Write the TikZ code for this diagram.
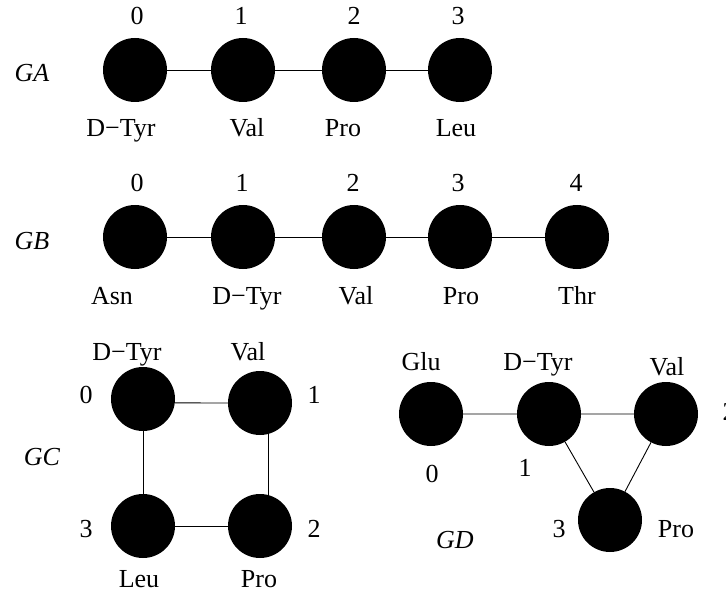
\documentclass[tikz,border=0pt]{standalone}
\usepackage{fontspec}
\setmainfont{Liberation Serif}
\begin{document}
\begin{tikzpicture}[x=1pt,y=-1pt,
  vert/.style={circle,fill=black,minimum size=64pt,inner sep=0pt,outer sep=0pt},
  lab/.style={anchor=base,inner sep=0pt,font=\fontsize{26}{30}\selectfont},
  glab/.style={anchor=base,inner sep=0pt,font=\fontsize{26}{30}\selectfont\itshape},
  edge/.style={line width=0.9pt,black}]
\useasboundingbox (0,0) rectangle (726,591);
% ---------- GA ----------
\node[glab] (ga) at (32,82) {GA};
\node[vert] (a0) at (135,70) {};
\node[vert] (a1) at (243,70) {};
\node[vert] (a2) at (354,70) {};
\node[vert] (a3) at (460,70) {};
\draw[edge] (a0) -- (a1) (a1) -- (a2) (a2) -- (a3);
\node[lab] (a0n) at (137,25) {0};
\node[lab] (a1n) at (241,25) {1};
\node[lab] (a2n) at (354,25) {2};
\node[lab] (a3n) at (458,25) {3};
\node[lab] (a0l) at (121,137) {D−Tyr};
\node[lab] (a1l) at (247,137) {Val};
\node[lab] (a2l) at (343,137) {Pro};
\node[lab] (a3l) at (456,137) {Leu};
% ---------- GB ----------
\node[glab] (gb) at (32,249) {GB};
\node[vert] (b0) at (135,237) {};
\node[vert] (b1) at (243,237) {};
\node[vert] (b2) at (354,237) {};
\node[vert] (b3) at (460,237) {};
\node[vert] (b4) at (577,237) {};
\draw[edge] (b0) -- (b1) (b1) -- (b2) (b2) -- (b3) (b3) -- (b4);
\node[lab] (b0n) at (137,192) {0};
\node[lab] (b1n) at (242,192) {1};
\node[lab] (b2n) at (353,192) {2};
\node[lab] (b3n) at (458,192) {3};
\node[lab] (b4n) at (576,192) {4};
\node[lab] (b0l) at (112,304) {Asn};
\node[lab] (b1l) at (247,304) {D−Tyr};
\node[lab] (b2l) at (356,304) {Val};
\node[lab] (b3l) at (461,304) {Pro};
\node[lab] (b4l) at (577,304) {Thr};
% ---------- GC ----------
\node[glab] (gc) at (42,465) {GC};
\node[vert] (c0) at (143,399) {};
\node[vert] (c1) at (260,403) {};
\node[vert] (c2) at (260,526) {};
\node[vert] (c3) at (143,526) {};
\draw[edge] (c0.-7) -- (c1.west);
\draw[edge] (c1.-74) -- (c2.74);
\draw[edge] (c2) -- (c3);
\draw[edge] (c3) -- (c0);
\node[lab] (c0l) at (127,360) {D−Tyr};
\node[lab] (c1l) at (248,360) {Val};
\node[lab] (c0n) at (86,403) {0};
\node[lab] (c1n) at (314,403) {1};
\node[lab] (c3n) at (86,537) {3};
\node[lab] (c2n) at (314,537) {2};
\node[lab] (c3l) at (139,587) {Leu};
\node[lab] (c2l) at (259,587) {Pro};
% ---------- GD ----------
\node[glab] (gd) at (455,548) {GD};
\node[vert] (d0) at (431,414) {};
\node[vert] (d1) at (549,414) {};
\node[vert] (d2) at (666,414) {};
\node[vert] (d3) at (610,520) {};
\draw[edge] (d0) -- (d1) (d1) -- (d2) (d1) -- (d3) (d2) -- (d3);
\node[lab] (d0l) at (421,370) {Glu};
\node[lab] (d1l) at (538,370) {D−Tyr};
\node[lab] (d2l) at (667,375) {Val};
\node[lab] (d0n) at (432,482) {0};
\node[lab] (d1n) at (525,476) {1};
\node[lab] (d2n) at (729,420) {2};
\node[lab] (d3n) at (559,537) {3};
\node[lab] (d3l) at (676,537) {Pro};
\end{tikzpicture}
\end{document}
